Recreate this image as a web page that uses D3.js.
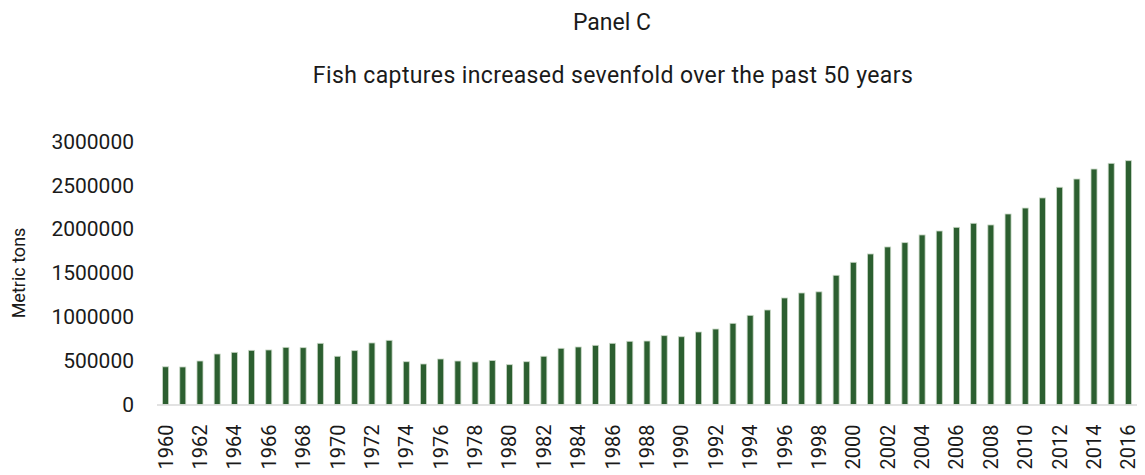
<!DOCTYPE html>
<html>
<head>
<meta charset="utf-8">
<script src="https://cdn.jsdelivr.net/npm/d3@7"></script>
<style>
  html, body { margin: 0; padding: 0; background: #fff; }
  svg { display: block; font-family: Roboto, "Noto Sans", sans-serif; }
</style>
</head>
<body>
<svg id="chart" width="1145" height="475"></svg>
<script>
// Global fish capture, metric tons per year
const years = d3.range(1960, 2017);
const captures = [
  430000, 428000, 496000, 576000, 595000, 618000, 622000, 652000, 648000, 698000,
  550000, 614000, 702000, 732000, 488000, 462000, 519000, 496000, 485000, 502000,
  454000, 488000, 550000, 641000, 656000, 675000, 698000, 721000, 724000, 785000,
  773000, 827000, 861000, 926000, 1017000, 1078000, 1215000, 1272000, 1285000, 1474000,
  1622000, 1717000, 1797000, 1846000, 1934000, 1979000, 2021000, 2067000, 2048000, 2173000,
  2241000, 2356000, 2478000, 2572000, 2686000, 2751000, 2781000
];
const yTicks = [0, 500000, 1000000, 1500000, 2000000, 2500000, 3000000];
const xTickYears = years.filter(y => y % 2 === 0);

const titleText = "Panel C";
const subtitleText = "Fish captures increased sevenfold over the past 50 years";
const yAxisTitle = "Metric tons";

const svg = d3.select("#chart");
const plot = { left: 157, right: 1137, top: 141.5, bottom: 404.5 };
const textColor = "#1a1a1a";

const x = d3.scaleBand()
  .domain(years)
  .range([plot.left, plot.right])
  .paddingInner(0.65)
  .paddingOuter(0.325);

const y = d3.scaleLinear()
  .domain([0, 3000000])
  .range([plot.bottom, plot.top]);

// Titles
svg.append("text")
  .attr("x", 612).attr("y", 22).attr("dy", "0.35em")
  .attr("text-anchor", "middle")
  .attr("font-size", 23).attr("fill", textColor)
  .text(titleText);

svg.append("text")
  .attr("x", 613).attr("y", 75).attr("dy", "0.35em")
  .attr("text-anchor", "middle")
  .attr("font-size", 23).attr("letter-spacing", 0.38).attr("fill", textColor)
  .text(subtitleText);

// Y axis title
svg.append("text")
  .attr("transform", "translate(19,273) rotate(-90)")
  .attr("dy", "0.35em")
  .attr("text-anchor", "middle")
  .style("font-size", "18px").attr("fill", textColor)
  .text(yAxisTitle);

// Y axis labels (no line, no ticks)
const yAxis = d3.axisLeft(y)
  .tickValues(yTicks)
  .tickFormat(d3.format("d"))
  .tickSize(0)
  .tickPadding(0);

const gy = svg.append("g")
  .attr("transform", "translate(134,0)")
  .call(yAxis);
gy.select(".domain").remove();
gy.selectAll("text")
  .attr("font-size", 21)
  .attr("font-family", "Roboto, sans-serif")
  .attr("fill", textColor);

// Bars
svg.append("g")
  .selectAll("rect")
  .data(years.map((yr, i) => ({ year: yr, value: captures[i] })))
  .join("rect")
  .attr("x", d => x(d.year))
  .attr("width", x.bandwidth())
  .attr("y", d => y(d.value))
  .attr("height", d => y(0) - y(d.value))
  .attr("fill", "#2c5f30")
  .attr("stroke", "#c9d8c6")
  .attr("stroke-width", 0.8);

// Baseline
svg.append("line")
  .attr("x1", plot.left).attr("x2", plot.right)
  .attr("y1", y(0) + 0.5).attr("y2", y(0) + 0.5)
  .attr("stroke", "#d9d9d9")
  .attr("stroke-width", 1.5);

// X axis labels, every other year, rotated
const xAxis = d3.axisBottom(x)
  .tickValues(xTickYears)
  .tickSize(0)
  .tickPadding(0);

const gx = svg.append("g")
  .attr("transform", `translate(0,${plot.bottom})`)
  .call(xAxis);
gx.select(".domain").remove();
gx.selectAll("text")
  .attr("font-size", 20)
  .attr("font-family", "Roboto, sans-serif")
  .attr("fill", textColor)
  .attr("text-anchor", "end")
  .attr("transform", "rotate(-90)")
  .attr("x", -20)
  .attr("y", 0)
  .attr("dy", "0.35em");
</script>
</body>
</html>
